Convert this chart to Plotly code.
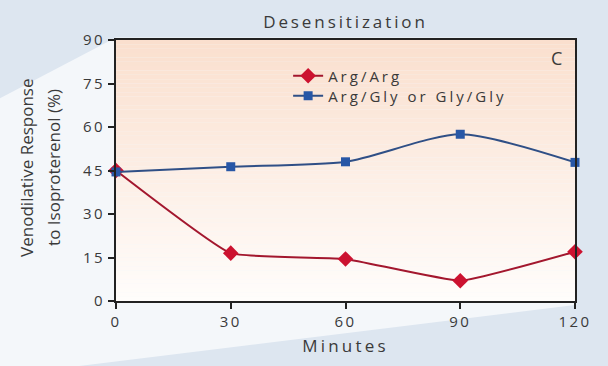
import plotly.graph_objects as go

minutes = [0, 30, 60, 90, 120]
arg_arg = [45, 16.5, 14.5, 7, 17]
arg_gly = [44.5, 46.3, 48, 57.5, 47.8]
y_ticks = [0, 15, 30, 45, 60, 75, 90]
x_ticks = [0, 30, 60, 90, 120]
series_names = ["Arg/Arg", "Arg/Gly or Gly/Gly"]
y_title_lines = ["Venodilative Response", "to Isoproterenol (%)"]

FONT = "Open Sans"
TXT = "#3a3a3a"


def wide(s, px):
    """Wrap text in a span with extra tracking."""
    return '<span style="letter-spacing:%.1fpx">%s</span>' % (px, s)


fig = go.Figure()

fig.add_trace(go.Scatter(
    x=minutes, y=arg_arg, name=wide(series_names[0], 3.0), mode="lines+markers",
    line=dict(color="#a3172e", width=2, shape="spline", smoothing=0.35),
    marker=dict(symbol="diamond", size=12, color="#cc1230"),
    cliponaxis=False, legend="legend",
))
fig.add_trace(go.Scatter(
    x=minutes, y=arg_gly, name=wide(series_names[1], 3.0), mode="lines+markers",
    line=dict(color="#2f4f86", width=2, shape="spline", smoothing=0.7),
    marker=dict(symbol="square", size=9, color="#2857a6"),
    cliponaxis=False, legend="legend2",
))

shapes = []
# pale diagonal band behind the panel
shapes.append(dict(
    type="path", xref="paper", yref="paper", layer="below",
    path="M -0.26 0.77 L 0 1.01 L 1 1.01 L 1 -0.015 L -0.26 -0.288 Z",
    fillcolor="#f4f7fa", line=dict(width=0),
))
# peach-to-white vertical wash inside the plot area
n = 60
top = (250, 223, 206)
bot = (255, 253, 251)
for i in range(n):
    t = i / (n - 1)
    c = tuple(int(round(top[k] * (1 - t) + bot[k] * t)) for k in range(3))
    shapes.append(dict(
        type="rect", xref="x domain", yref="y domain", layer="below",
        x0=0, x1=1, y0=1 - (i + 1) / n, y1=1 - i / n,
        fillcolor="rgb(%d,%d,%d)" % c, line=dict(width=0),
    ))

annotations = [
    dict(text="C", x=0.96, y=0.985, xref="paper", yref="paper",
         xanchor="center", yanchor="top", showarrow=False,
         font=dict(size=18, color=TXT)),
]
# two-line y-axis title, one rotated annotation per line
for i, line in enumerate(y_title_lines):
    annotations.append(dict(
        text=line, textangle=-90, x=0, xref="paper", xshift=-89 + 27 * i,
        y=0.51, yref="paper", xanchor="center", yanchor="middle",
        showarrow=False, font=dict(size=17, color=TXT),
    ))

legend_style = dict(xanchor="left", yanchor="middle", bgcolor="rgba(0,0,0,0)",
                    font=dict(size=15, color=TXT), itemwidth=30)

fig.update_layout(
    width=608, height=366,
    margin=dict(l=116, r=33, t=40, b=65),
    paper_bgcolor="#dde6f0",
    plot_bgcolor="#fdf4ee",
    shapes=shapes,
    annotations=annotations,
    font=dict(family=FONT, color=TXT, size=15),
    title=dict(text=wide("Desensitization", 2.9), x=0.5, xanchor="center",
               xref="paper", y=1 - 22 / 366, yanchor="middle",
               font=dict(family=FONT, size=17, color=TXT)),
    showlegend=True,
    legend=dict(x=0.375, y=0.862, **legend_style),
    legend2=dict(x=0.375, y=0.785, **legend_style),
)

fig.update_xaxes(
    range=[0, 120], tickvals=x_ticks, ticktext=[wide(str(v), 2.5) for v in x_ticks],
    ticks="outside", ticklen=6, tickwidth=1.5,
    tickcolor="#222", showline=True, linecolor="#222", linewidth=1.6,
    mirror=True, showgrid=False, zeroline=False,
    tickfont=dict(size=15, color=TXT),
    title=dict(text=wide("Minutes", 3.2), font=dict(size=17, color=TXT), standoff=10),
)
fig.update_yaxes(
    range=[0, 90], tickvals=y_ticks, ticktext=[wide(str(v), 2.5) for v in y_ticks],
    ticks="outside", ticklen=6, tickwidth=1.5,
    tickcolor="#222", showline=True, linecolor="#222", linewidth=1.6,
    mirror=True, showgrid=False, zeroline=False,
    tickfont=dict(size=15, color=TXT),
)

fig.write_html("out.html")
